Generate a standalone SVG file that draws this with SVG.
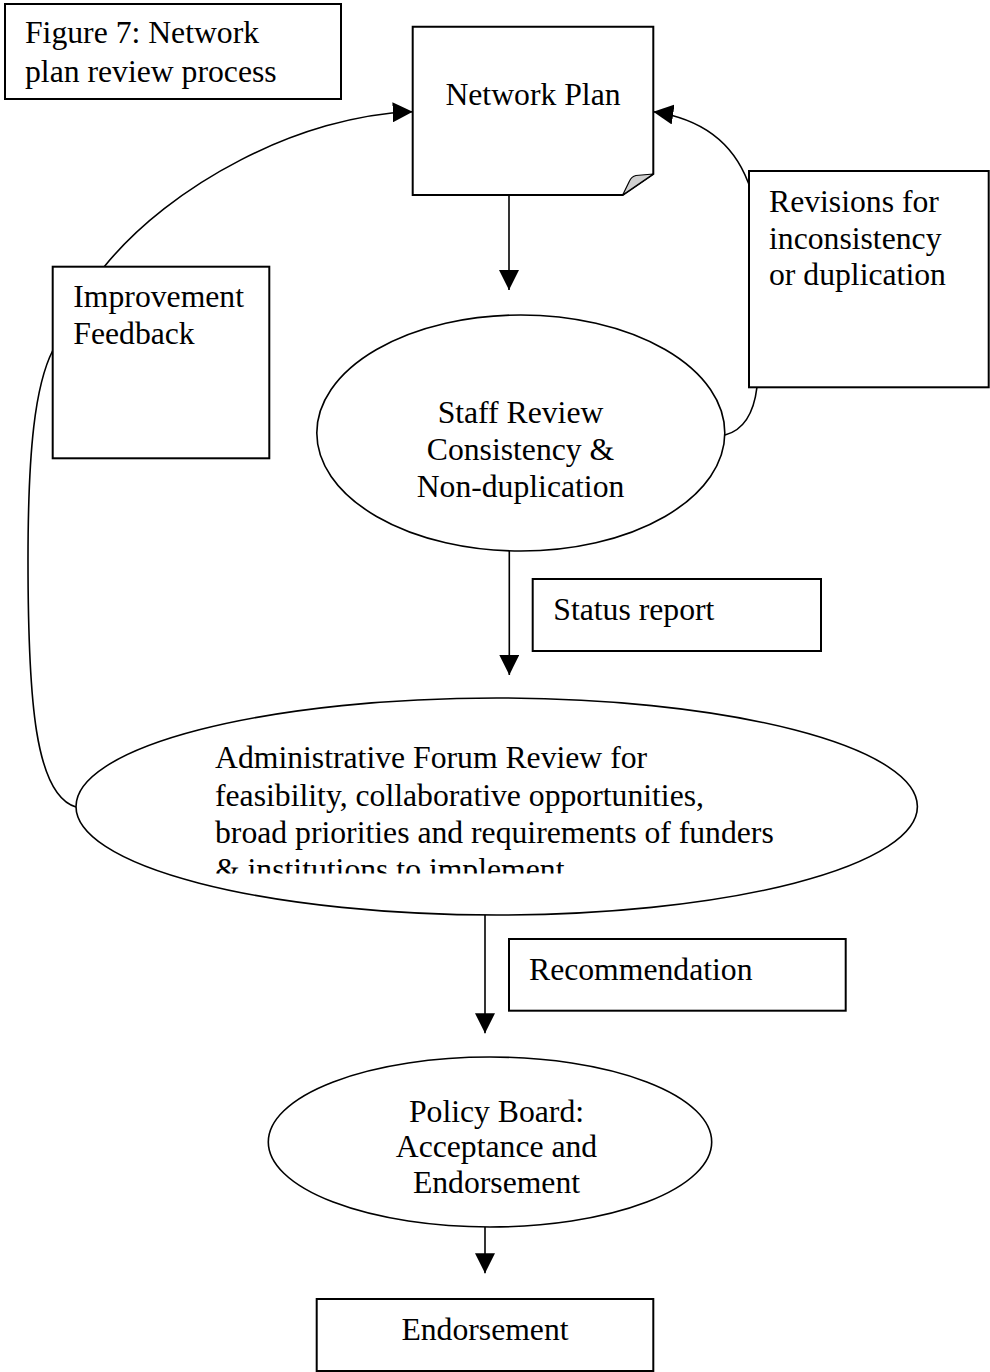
<svg xmlns="http://www.w3.org/2000/svg" width="990" height="1372" viewBox="0 0 990 1372">
  <style>
    .box { fill: #ffffff; stroke: #000000; stroke-width: 2; }
    .oval { fill: #ffffff; stroke: #000000; stroke-width: 1.6; }
    .wire { fill: none; stroke: #000000; stroke-width: 1.6; }
    .lbl { font-family: "Liberation Serif", "Times New Roman", serif; font-size: 31.7px; fill: #000000; }
    .mid { text-anchor: middle; }
  </style>
  <defs>
    <marker id="head" markerUnits="userSpaceOnUse" markerWidth="20" markerHeight="20" refX="20" refY="10" orient="auto">
      <path d="M0,0 L20,10 L0,20 Z" fill="#000000"/>
    </marker>
    <clipPath id="forumClip">
      <rect x="0" y="700" width="990" height="173.5"/>
    </clipPath>
  </defs>
  <rect width="990" height="1372" fill="#ffffff"/>

  <!-- connectors -->
  <g id="connectors">
    <!-- plan to staff review -->
    <path class="wire" d="M509,195 V290" marker-end="url(#head)"/>
    <!-- staff review to forum -->
    <path class="wire" d="M509.3,551 V675" marker-end="url(#head)"/>
    <!-- forum to policy board -->
    <path class="wire" d="M485,914 V1033.3" marker-end="url(#head)"/>
    <!-- policy board to endorsement -->
    <path class="wire" d="M485,1227 V1273.3" marker-end="url(#head)"/>
    <!-- revisions loop back to plan -->
    <path class="wire" d="M725,435 Q752,428 757,387 C 770,300 765,220 748,182 Q725,122 653.3,111.7" marker-end="url(#head)"/>
    <!-- improvement feedback loop back to plan -->
    <path class="wire" d="M76,807 C 35,795 28,700 28,560 C 28,450 35,385 53,350 L104,267 C 170,185 300,115 412.7,111.7" marker-end="url(#head)"/>
  </g>

  <g id="title">
    <rect class="box" x="5" y="4" width="336" height="95"/>
    <text class="lbl" x="25" y="43">Figure 7: Network</text>
    <text class="lbl" x="25" y="82">plan review process</text>
  </g>

  <g id="network-plan">
    <path class="box" d="M412.7,26.7 H653.3 V174 L622.7,195 H412.7 Z"/>
    <path d="M622.7,195 L653.3,174 L636,175.5 Q631.5,176.5 629.5,181 Z" fill="#d0d0d0" stroke="#000000" stroke-width="1.2" stroke-linejoin="round"/>
    <text class="lbl mid" x="533" y="105">Network Plan</text>
  </g>

  <g id="improvement-feedback">
    <rect class="box" x="52.7" y="266.7" width="216.6" height="191.6"/>
    <text class="lbl" x="73.3" y="307">Improvement</text>
    <text class="lbl" x="73.3" y="344">Feedback</text>
  </g>

  <g id="revisions">
    <rect class="box" x="749" y="171" width="239.7" height="216.3"/>
    <text class="lbl" x="769" y="212">Revisions for</text>
    <text class="lbl" x="769" y="249">inconsistency</text>
    <text class="lbl" x="769" y="285">or duplication</text>
  </g>

  <g id="staff-review">
    <ellipse class="oval" cx="520.8" cy="433" rx="204" ry="118"/>
    <text class="lbl mid" x="520.5" y="423">Staff Review</text>
    <text class="lbl mid" x="520.5" y="460">Consistency &amp;</text>
    <text class="lbl mid" x="520.5" y="497">Non-duplication</text>
  </g>

  <g id="status-report">
    <rect class="box" x="532.7" y="579" width="288.3" height="72"/>
    <text class="lbl" x="553.3" y="620">Status report</text>
  </g>

  <g id="forum-review">
    <ellipse class="oval" cx="496.7" cy="806.5" rx="420.7" ry="108.5"/>
    <g clip-path="url(#forumClip)">
      <text class="lbl" x="215" y="768.3">Administrative Forum Review for</text>
      <text class="lbl" x="215" y="806">feasibility, collaborative opportunities,</text>
      <text class="lbl" x="215" y="842.7">broad priorities and requirements of funders</text>
      <text class="lbl" x="215" y="880">&amp; institutions to implement</text>
    </g>
  </g>

  <g id="recommendation">
    <rect class="box" x="509" y="939" width="336.7" height="71.7"/>
    <text class="lbl" x="529" y="980">Recommendation</text>
  </g>

  <g id="policy-board">
    <ellipse class="oval" cx="490" cy="1142" rx="221.7" ry="85"/>
    <text class="lbl mid" x="496.5" y="1121.7">Policy Board:</text>
    <text class="lbl mid" x="496.5" y="1157.3">Acceptance and</text>
    <text class="lbl mid" x="496.5" y="1193.3">Endorsement</text>
  </g>

  <g id="endorsement">
    <rect class="box" x="316.7" y="1299" width="336.6" height="72"/>
    <text class="lbl mid" x="485" y="1340">Endorsement</text>
  </g>
</svg>
